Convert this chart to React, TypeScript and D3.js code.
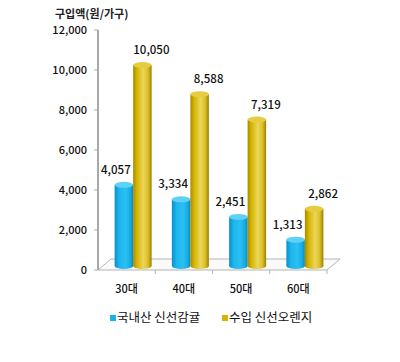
import React, { useEffect, useRef } from 'react';
import * as d3 from 'd3';

const CATEGORIES = ['30대', '40대', '50대', '60대'];
const DOMESTIC = [4057, 3334, 2451, 1313];
const IMPORTED = [10050, 8588, 7319, 2862];
const SERIES_NAMES = ['국내산 신선감귤', '수입 신선오렌지'];
const Y_TICKS = [0, 2000, 4000, 6000, 8000, 10000, 12000];
const Y_TITLE = '구입액(원/가구)';

const FONT = '"Malgun Gothic", "Noto Sans CJK KR", "Liberation Sans", sans-serif';

export default function App() {
  const ref = useRef<SVGSVGElement | null>(null);

  useEffect(() => {
    document.body.style.margin = '0';
    const svg = d3.select(ref.current);
    svg.selectAll('*').remove();

    const left = 98,
      right = 327,
      dx = 13,
      dy = -11,
      barDx = 6.5,
      barDy = -4,
      barW = 18.5,
      ry = 3;

    const x = d3.scaleBand<string>().domain(CATEGORIES).range([left, right]).padding(0);
    const y = d3.scaleLinear().domain([0, 12000]).range([270, 30]);
    const inner = d3
      .scaleBand<string>()
      .domain(['d', 'i'])
      .range([-barW, barW]);

    const defs = svg.append('defs');
    const grad = (id: string, stops: [number, string][]) => {
      const g = defs.append('linearGradient').attr('id', id).attr('x1', 0).attr('x2', 1).attr('y1', 0).attr('y2', 0);
      stops.forEach(([o, c]) => g.append('stop').attr('offset', o).attr('stop-color', c));
    };
    grad('blue', [
      [0, '#0b8ec8'],
      [0.25, '#1cb6ee'],
      [0.6, '#2bc0f2'],
      [0.85, '#16ace4'],
      [1, '#0a86bc'],
    ]);
    grad('gold', [
      [0, '#a88a00'],
      [0.2, '#d4b400'],
      [0.55, '#ecd65a'],
      [0.8, '#dcc028'],
      [1, '#9c8000'],
    ]);

    // floor
    const y0 = y(0);
    svg
      .append('path')
      .attr('d', `M${left},${y0} L${right},${y0} L${right + dx},${y0 + dy} L${left + dx},${y0 + dy} Z`)
      .attr('fill', '#fafafa')
      .attr('stroke', '#b4b4b4')
      .attr('stroke-width', 1);

    // category separators
    svg
      .selectAll('.sep')
      .data(CATEGORIES)
      .enter()
      .append('line')
      .attr('x1', (d) => x(d)! + x.bandwidth())
      .attr('x2', (d) => x(d)! + x.bandwidth())
      .attr('y1', y0)
      .attr('y2', y0 + 4)
      .attr('stroke', '#b4b4b4');

    // y axis
    svg
      .append('line')
      .attr('x1', left)
      .attr('x2', left)
      .attr('y1', y(12000))
      .attr('y2', y0)
      .attr('stroke', '#a8a8a8')
      .attr('stroke-width', 2);

    svg
      .selectAll('.ytick')
      .data(Y_TICKS)
      .enter()
      .append('line')
      .attr('x1', left - 4)
      .attr('x2', left)
      .attr('y1', (d) => y(d))
      .attr('y2', (d) => y(d))
      .attr('stroke', '#a8a8a8');

    svg
      .selectAll('.ylab')
      .data(Y_TICKS)
      .enter()
      .append('text')
      .attr('x', 87)
      .attr('y', (d) => y(d))
      .attr('dy', '0.35em')
      .attr('text-anchor', 'end')
      .style('font-family', FONT)
      .style('font-size', '11px')
      .style('font-weight', 500)
      .style('fill', '#111')
      .text((d) => d3.format(',')(d));

    svg
      .append('text')
      .attr('x', 55)
      .attr('y', 18)
      .style('font-family', FONT)
      .style('font-size', '11px')
      .style('font-weight', 'bold')
      .style('fill', '#222')
      .text(Y_TITLE);

    // bars
    const rows = CATEGORIES.map((c, i) => ({ c, d: DOMESTIC[i], im: IMPORTED[i] }));
    const series: { key: string; fill: string; cap: string; shift: number }[] = [
      { key: 'd', fill: 'url(#blue)', cap: '#5fd0f6', shift: -8 },
      { key: 'i', fill: 'url(#gold)', cap: '#e6cc40', shift: 9 },
    ];

    series.forEach((s) => {
      const g = svg
        .selectAll(`.bar-${s.key}`)
        .data(rows)
        .enter()
        .append('g')
        .attr('transform', (d) => `translate(${x(d.c)! + x.bandwidth() / 2 + barDx + inner(s.key)!}, ${barDy})`);
      const val = (d: any) => (s.key === 'd' ? d.d : d.im);
      g.append('ellipse')
        .attr('cx', barW / 2)
        .attr('cy', y0)
        .attr('rx', barW / 2)
        .attr('ry', ry)
        .attr('fill', s.fill);
      g.append('rect')
        .attr('x', 0)
        .attr('y', (d) => y(val(d)))
        .attr('width', barW)
        .attr('height', (d) => y0 - y(val(d)))
        .attr('fill', s.fill);
      g.append('ellipse')
        .attr('cx', barW / 2)
        .attr('cy', (d) => y(val(d)))
        .attr('rx', barW / 2)
        .attr('ry', ry)
        .attr('fill', s.cap);
      g.append('text')
        .attr('x', barW / 2 + s.shift)
        .attr('y', (d) => y(val(d)) - ry - 8)
        .attr('text-anchor', 'middle')
        .style('font-family', FONT)
        .style('font-size', '11.5px')
        .style('font-weight', 500)
        .style('fill', '#111')
        .text((d) => d3.format(',')(val(d)));
    });

    // x labels
    svg
      .selectAll('.xlab')
      .data(CATEGORIES)
      .enter()
      .append('text')
      .attr('x', (d) => x(d)! + x.bandwidth() / 2)
      .attr('y', 289)
      .attr('dy', '0.35em')
      .attr('text-anchor', 'middle')
      .style('font-family', FONT)
      .style('font-size', '11px')
      .style('font-weight', 500)
      .style('fill', '#111')
      .text((d) => d);

    // legend
    const legend = svg
      .selectAll('.legend')
      .data(SERIES_NAMES)
      .enter()
      .append('g')
      .attr('transform', (d, i) => `translate(${i === 0 ? 110 : 222}, 318)`);
    legend
      .append('rect')
      .attr('x', 0)
      .attr('y', -3)
      .attr('width', 6)
      .attr('height', 6)
      .attr('fill', (d, i) => (i === 0 ? '#1ab2ea' : '#d4b400'));
    legend
      .append('text')
      .attr('x', 7)
      .attr('y', 0)
      .attr('dy', '0.35em')
      .style('font-family', FONT)
      .style('font-size', '12.5px')
      .style('fill', '#111')
      .text((d) => d);
  }, []);

  return <svg ref={ref} width={400} height={362} style={{ display: 'block', background: '#fff' }} />;
}
